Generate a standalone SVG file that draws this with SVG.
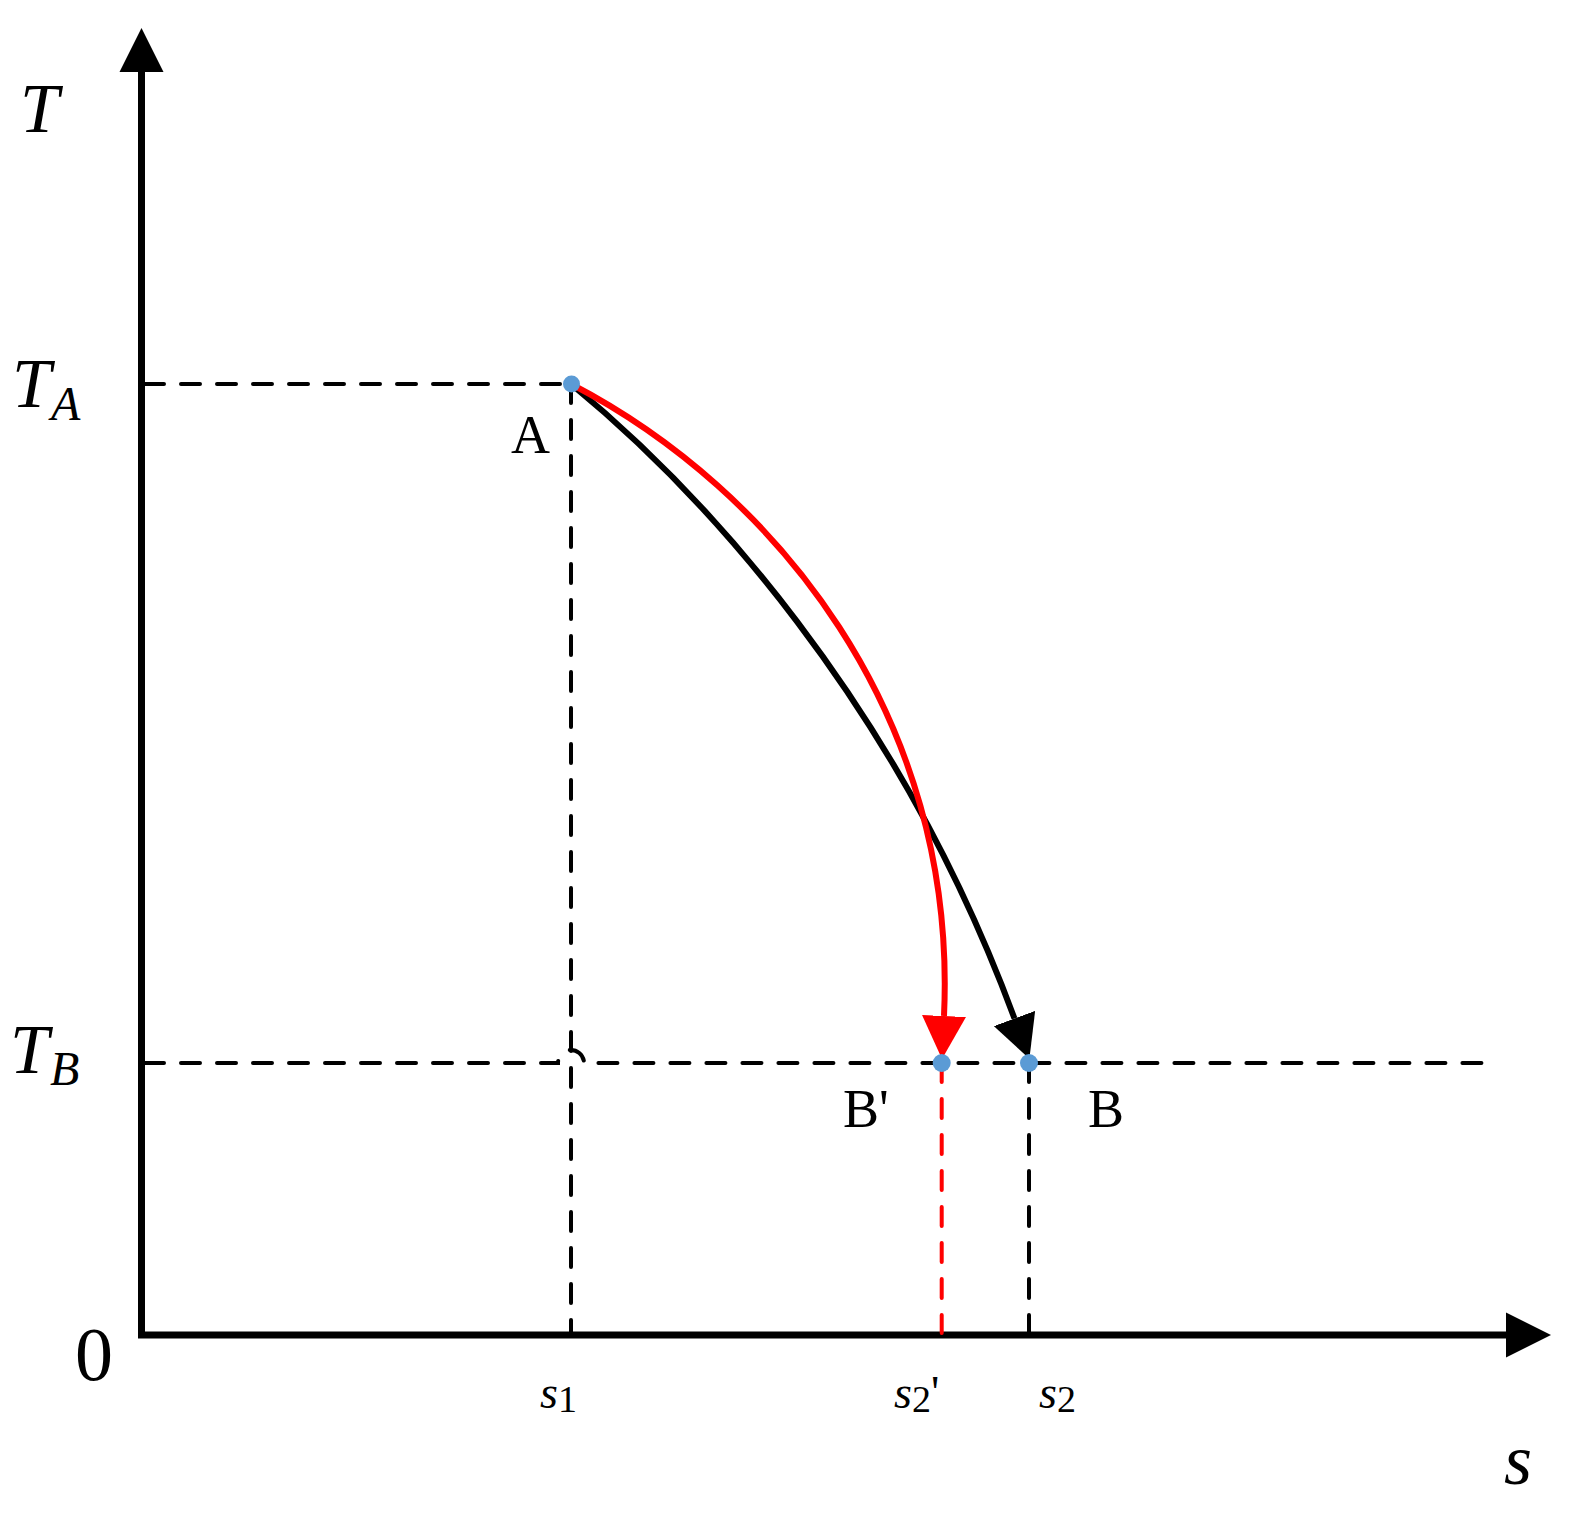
<svg xmlns="http://www.w3.org/2000/svg" width="1594" height="1515" viewBox="0 0 1594 1515">
<style>
.t{font-family:"Liberation Serif","Times New Roman",serif;fill:#000}
.i{font-style:italic}
.dash{fill:none;stroke:#000;stroke-width:4;stroke-dasharray:19 17;stroke-linecap:round}
.dashr{fill:none;stroke:#f00;stroke-width:4;stroke-dasharray:19 17;stroke-linecap:round}
.axis{stroke:#000;stroke-width:7;fill:none}
.pt{fill:#5B9BD5}
</style>
<defs>
<marker id="ak" markerUnits="userSpaceOnUse" markerWidth="44" markerHeight="44" refX="0" refY="22" orient="auto" viewBox="0 0 44 44"><path d="M0,0 L43,22 L0,44 z" fill="#000"/></marker>
<marker id="ar" markerUnits="userSpaceOnUse" markerWidth="44" markerHeight="44" refX="0" refY="22" orient="auto" viewBox="0 0 44 44"><path d="M0,0 L43,22 L0,44 z" fill="#f00"/></marker>
</defs>
<rect width="1594" height="1515" fill="#fff"/>
<g id="axes">
<path class="axis" d="M141.5,72 V1335 H1506"/>
<polygon points="141.5,28 119.5,72 163.5,72" fill="#000"/>
<polygon points="1551,1335 1506,1312.5 1506,1357.5" fill="#000"/>
</g>
<g id="guides">
<path class="dash" d="M145,384 H571"/>
<path class="dash" d="M571,384 V1333"/>
<path class="dash" d="M145,1063 H558 A13,13 0 0 1 584,1063 H1489"/>
<path class="dashr" d="M941.7,1063 V1333"/>
<path class="dash" d="M1029,1063 V1333"/>
</g>
<g id="connectors">
<path id="curve-black" d="M571,384 C700,490 897,700 1014.5,1018.5" fill="none" stroke="#000" stroke-width="6" marker-end="url(#ak)"/>
<path id="curve-red" d="M571,384 C775,490 958,716 944,1016" fill="none" stroke="#f00" stroke-width="6" marker-end="url(#ar)"/>
</g>
<g id="node-A"><circle class="pt" cx="571.5" cy="384" r="8.5"/><text class="t" x="511" y="453" font-size="54">A</text></g>
<g id="node-Bp"><circle class="pt" cx="941.7" cy="1063" r="9"/><text class="t" x="843" y="1127" font-size="54">B'</text></g>
<g id="node-B"><circle class="pt" cx="1029" cy="1063" r="9"/><text class="t" x="1088" y="1127" font-size="54">B</text></g>
<g id="labels">
<text class="t i" x="20" y="132" font-size="70">T</text>
<text class="t i" x="12" y="407" font-size="70">T</text><text class="t i" x="51" y="420" font-size="48">A</text>
<text class="t i" x="10" y="1073" font-size="70">T</text><text class="t i" x="50" y="1085" font-size="48">B</text>
<text class="t" x="75" y="1380" font-size="76">0</text>
<text class="t" x="540" y="1408" font-size="46"><tspan class="i">s</tspan><tspan font-size="38" dy="4">1</tspan></text>
<text class="t" x="894" y="1408" font-size="46"><tspan class="i">s</tspan><tspan font-size="38" dy="4">2</tspan><tspan dy="-4">'</tspan></text>
<text class="t" x="1039" y="1408" font-size="46"><tspan class="i">s</tspan><tspan font-size="38" dy="4">2</tspan></text>
<text class="t i" x="1504" y="1484" font-size="72">s</text>
</g>
</svg>
